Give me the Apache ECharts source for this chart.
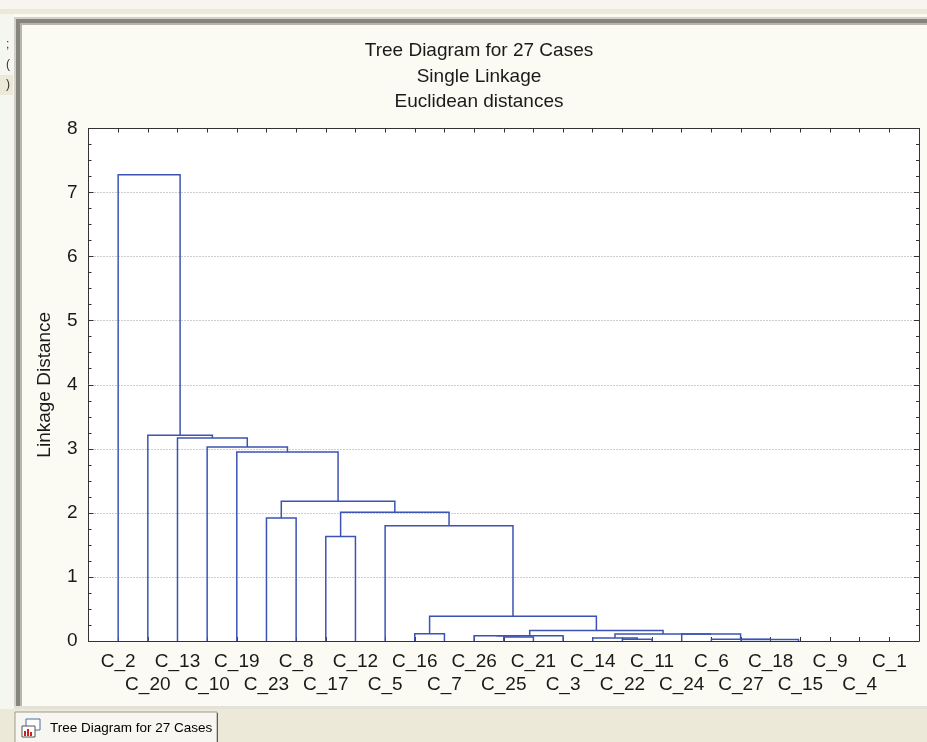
<!DOCTYPE html>
<html lang="en">
<head>
    <meta charset="UTF-8"/>
    <script type="text/javascript" src="https://cdn.jsdelivr.net/npm/echarts@6/dist/echarts.min.js"></script>
    <title>Tree Diagram for 27 Cases</title>
    <style>
        html, body { margin: 0; padding: 0; background: #fbfbf4; }
        #main { width: 927px; height: 742px; }
    </style>
</head>
<body>
<div id="main"></div>
<script type="text/javascript">
    // cases in the order the tree puts them on the x axis
    var leaves = ['C_2', 'C_20', 'C_13', 'C_10', 'C_19', 'C_23', 'C_8', 'C_17', 'C_12', 'C_5',
        'C_16', 'C_7', 'C_26', 'C_25', 'C_21', 'C_3', 'C_14', 'C_22', 'C_11', 'C_24',
        'C_6', 'C_27', 'C_18', 'C_15', 'C_9', 'C_4', 'C_1'];
    // joins in order: ids below 27 are cases, 27 + k is the cluster made by join k
    var joinA = [25, 24, 23, 22, 21, 17, 20, 16, 13, 12, 36, 19, 34, 10, 37, 40, 7, 9, 5, 43, 45, 4, 3, 2, 1, 0];
    var joinB = [26, 27, 28, 29, 30, 18, 31, 32, 14, 35, 15, 33, 38, 11, 39, 41, 8, 42, 6, 44, 46, 47, 48, 49, 50, 51];
    var joinDist = [0, 0, 0, 0, 0.025, 0.028, 0.028, 0.046, 0.062, 0.083, 0.083, 0.109, 0.109, 0.114,
        0.164, 0.385, 1.63, 1.80, 1.92, 2.01, 2.18, 2.95, 3.03, 3.17, 3.21, 7.28];
    var titleLines = ['Tree Diagram for 27 Cases', 'Single Linkage', 'Euclidean distances'];
    var yTitle = 'Linkage Distance';
    var tabTitle = 'Tree Diagram for 27 Cases';

    var font = '"Liberation Sans", Arial, sans-serif';
    var ink = '#1a1a1a';

    // walk the joins, each cluster sits in the middle of its bar
    var nodeX = leaves.map(function (n, i) { return i + 1; });
    var nodeH = leaves.map(function () { return 0; });
    var links = [];
    for (var k = 0; k < joinA.length; k++) {
        var a = joinA[k], b = joinB[k], h = joinDist[k];
        if (h > 0) {
            links.push({coords: [[nodeX[a], nodeH[a]], [nodeX[a], h], [nodeX[b], h], [nodeX[b], nodeH[b]]]});
        }
        nodeX.push((nodeX[a] + nodeX[b]) / 2);
        nodeH.push(h);
    }

    function caseLabel(v) {
        var i = Math.round(v) - 1;
        if (i < 0 || i >= leaves.length) return '';
        return i % 2 ? '\n' + leaves[i] : leaves[i];
    }

    var frameTick = {inside: true, length: 4, lineStyle: {color: '#333'}};
    var frameLine = {show: true, onZero: false, lineStyle: {color: '#333', width: 1}};

    var option = {
        backgroundColor: '#fbfbf4',
        animation: false,
        grid: {
            left: 88.5, right: 8, top: 128.5, bottom: 101,
            containLabel: false, outerBoundsMode: 'none',
            show: true, backgroundColor: '#fff', borderWidth: 0
        },
        xAxis: [{
            type: 'value', min: 0, max: 28, interval: 1, position: 'bottom', z: 1,
            axisLine: frameLine, axisTick: frameTick, splitLine: {show: false},
            axisLabel: {
                formatter: caseLabel, fontSize: 19, fontFamily: font, color: ink,
                margin: 9, lineHeight: 23, showMinLabel: true, showMaxLabel: true
            }
        }, {
            type: 'value', min: 0, max: 28, interval: 1, position: 'top', z: 1,
            axisLine: frameLine, axisTick: frameTick, splitLine: {show: false},
            axisLabel: {show: false}
        }],
        yAxis: [{
            type: 'value', min: 0, max: 8, interval: 1, position: 'left',
            axisLine: frameLine,
            axisTick: {inside: true, length: 5, lineStyle: {color: '#333'}},
            minorTick: {show: true, splitNumber: 4, length: 3, lineStyle: {color: '#333'}},
            axisLabel: {fontSize: 19, fontFamily: font, color: ink, margin: 11},
            splitLine: {show: true, lineStyle: {type: [1, 2], color: '#9a9a9a', width: 1}},
            name: yTitle, nameLocation: 'middle', nameGap: 34,
            nameTextStyle: {fontSize: 19, fontFamily: font, color: ink}
        }, {
            type: 'value', min: 0, max: 8, interval: 1, position: 'right',
            axisLine: frameLine,
            axisTick: {inside: true, length: 5, lineStyle: {color: '#333'}},
            minorTick: {show: true, splitNumber: 4, length: 3, lineStyle: {color: '#333'}},
            axisLabel: {show: false}, splitLine: {show: false}
        }],
        series: [{
            type: 'lines',
            coordinateSystem: 'cartesian2d',
            polyline: true,
            silent: true,
            z: 3,
            lineStyle: {color: '#3c53b3', width: 1.5, opacity: 1},
            data: links
        }],
        graphic: [
            // strip of the app above the window
            {type: 'rect', shape: {x: 0, y: 0, width: 927, height: 14}, style: {fill: '#ece9d8'}},
            {type: 'rect', shape: {x: 0, y: 0, width: 927, height: 9}, style: {fill: '#f6f5f0'}},
            {type: 'rect', shape: {x: 0, y: 14, width: 14, height: 695}, style: {fill: '#f6f6f1'}},
            {type: 'rect', shape: {x: 0, y: 75, width: 13, height: 20}, style: {fill: '#ece9d8'}},
            {type: 'text', style: {text: ';', x: 6, y: 45, font: '12px ' + font, fill: '#333', verticalAlign: 'middle'}},
            {type: 'text', style: {text: '(', x: 6, y: 65, font: '12px ' + font, fill: '#333', verticalAlign: 'middle'}},
            {type: 'text', style: {text: ')', x: 6, y: 85, font: '12px ' + font, fill: '#333', verticalAlign: 'middle'}},
            // window frame
            {type: 'rect', shape: {x: 14, y: 17, width: 913, height: 2}, style: {fill: '#d4d0c8'}},
            {type: 'rect', shape: {x: 14, y: 17, width: 2, height: 692}, style: {fill: '#d4d0c8'}},
            {type: 'rect', shape: {x: 16, y: 19, width: 911, height: 4}, style: {fill: '#85857d'}},
            {type: 'rect', shape: {x: 16, y: 19, width: 4, height: 688}, style: {fill: '#85857d'}},
            {type: 'rect', shape: {x: 20, y: 23, width: 907, height: 2}, style: {fill: '#b8b5ac'}},
            {type: 'rect', shape: {x: 20, y: 23, width: 2, height: 684}, style: {fill: '#b8b5ac'}},
            {type: 'rect', shape: {x: 14, y: 706, width: 913, height: 3}, style: {fill: '#e4e1d8'}},
            // tab bar
            {type: 'rect', shape: {x: 0, y: 709, width: 927, height: 33}, style: {fill: '#ece9d8'}},
            {type: 'rect', shape: {x: 15, y: 712, width: 202, height: 31}, style: {fill: '#f7f6f0', stroke: '#9c9a92', lineWidth: 1}},
            {type: 'line', shape: {x1: 217.5, y1: 713, x2: 217.5, y2: 742}, style: {stroke: '#5c5c5c', lineWidth: 1}},
            {type: 'rect', shape: {x: 26, y: 719, width: 14, height: 11}, style: {fill: '#fff', stroke: '#4a6aa8', lineWidth: 1}},
            {type: 'rect', shape: {x: 22, y: 726, width: 13, height: 11}, style: {fill: '#fff', stroke: '#555', lineWidth: 1}},
            {type: 'rect', shape: {x: 24, y: 731, width: 2, height: 5}, style: {fill: '#d02020'}},
            {type: 'rect', shape: {x: 27, y: 729, width: 2, height: 7}, style: {fill: '#d02020'}},
            {type: 'rect', shape: {x: 30, y: 732, width: 2, height: 4}, style: {fill: '#d02020'}},
            {type: 'text', style: {text: tabTitle, x: 50, y: 728, font: '13.5px ' + font, fill: '#000', verticalAlign: 'middle'}},
            // chart title
            {type: 'text', z: 10, style: {
                text: titleLines.join('\n'), x: 479, y: 38, textAlign: 'center', verticalAlign: 'top',
                font: '19px ' + font, lineHeight: 25.7, fill: ink
            }}
        ]
    };

    var myChart = echarts.init(document.getElementById('main'));
    myChart.setOption(option);
</script>
</body>
</html>
